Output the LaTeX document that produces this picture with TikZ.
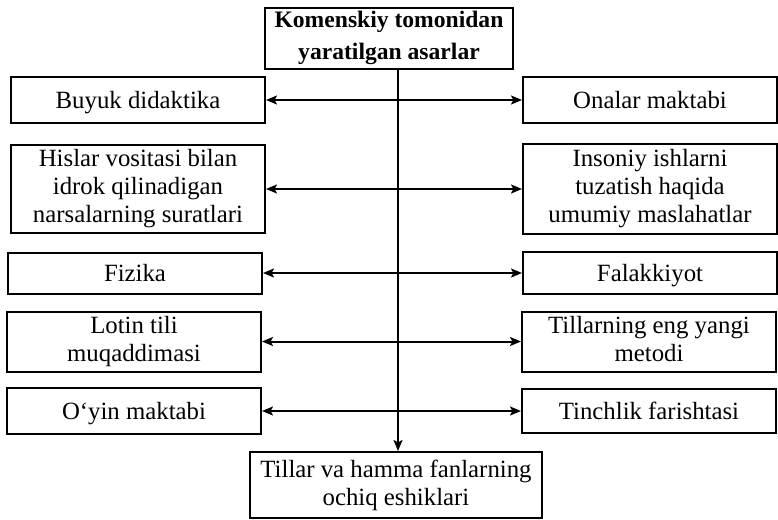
\documentclass[tikz,border=0pt]{standalone}
\usepackage{fontspec}
\setmainfont{Liberation Serif}
\usetikzlibrary{arrows.meta}
\newcommand\boxstrut{\rule[-2.6pt]{0pt}{13.4pt}}
\begin{document}
\begin{tikzpicture}[x=0.5pt,y=-0.5pt,>={Stealth[length=5.5pt,width=4.5pt,inset=1.2pt]},line width=1pt,
  box/.style={draw,align=center,inner sep=0pt,font=\fontsize{12.4}{14}\selectfont,
    execute at begin node=\boxstrut,execute at end node=\boxstrut}]
  \useasboundingbox (0,0) rectangle (778,520);
  % title and result
  \node[box,font=\fontsize{11.8}{16}\selectfont\bfseries,minimum width=124pt,minimum height=30.5pt] (top) at (389,38)
    {Komenskiy tomonidan\\yaratilgan asarlar};
  \node[box,minimum width=146pt,minimum height=33pt] (bot) at (396,485)
    {Tillar va hamma fanlarning\\ochiq eshiklari};
  % left column
  \node[box,minimum width=127pt,minimum height=23pt] (l1) at (138,100) {Buyuk didaktika};
  \node[box,minimum width=127pt,minimum height=44pt] (l2) at (138,189)
    {Hislar vositasi bilan\\idrok qilinadigan\\narsalarning suratlari};
  \node[box,minimum width=127pt,minimum height=20.5pt] (l3) at (135,273) {Fizika};
  \node[box,minimum width=127pt,minimum height=30pt] (l4) at (134,341.5) {Lotin tili\\muqaddimasi};
  \node[box,minimum width=127pt,minimum height=23pt] (l5) at (134,411) {O‘yin maktabi};
  % right column
  \node[box,minimum width=127pt,minimum height=23pt] (r1) at (650,100) {Onalar maktabi};
  \node[box,minimum width=127pt,minimum height=45pt] (r2) at (650,189)
    {Insoniy ishlarni\\tuzatish haqida\\umumiy maslahatlar};
  \node[box,minimum width=127pt,minimum height=21pt] (r3) at (650,273) {Falakkiyot};
  \node[box,minimum width=127pt,minimum height=30pt] (r4) at (649,341.5) {Tillarning eng yangi\\metodi};
  \node[box,minimum width=127pt,minimum height=22pt] (r5) at (649,411) {Tinchlik farishtasi};
  % trunk
  \coordinate (t) at (398,0);
  \draw[->] (top.south -| t) -- (bot.north -| t);
  \foreach \i in {1,...,5}
    \draw[<->] (l\i.east) -- (r\i.west);
\end{tikzpicture}
\end{document}
